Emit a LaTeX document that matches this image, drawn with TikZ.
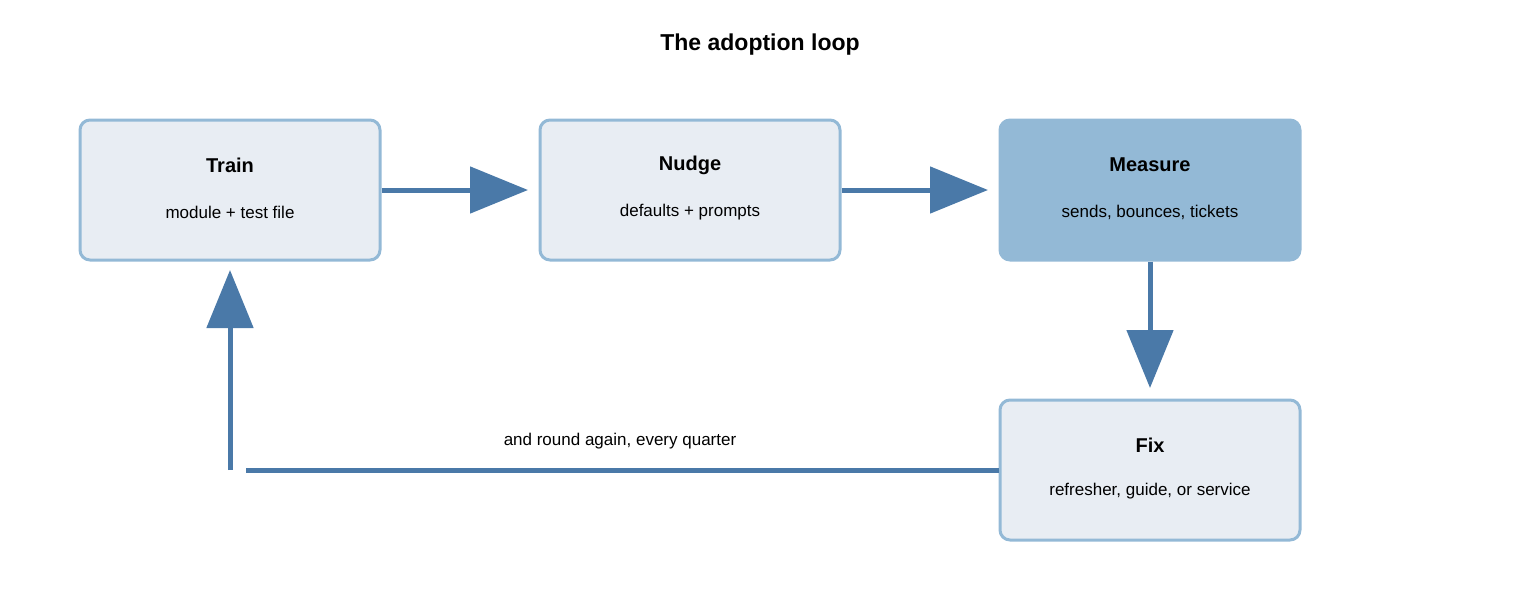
\documentclass[tikz,border=0pt]{standalone}
\usepackage{fontspec}
\setmainfont{Liberation Sans}
\usetikzlibrary{arrows.meta}
\definecolor{edge}{HTML}{4A79A8}
\definecolor{bord}{HTML}{93B9D6}
\definecolor{pale}{HTML}{E8EDF3}
\begin{document}
\begin{tikzpicture}[x=1pt,y=-1pt,
  box/.style={draw=bord,line width=3pt,fill=pale,rounded corners=10pt,minimum width=300pt,minimum height=140pt,align=center,inner sep=0pt},
  hot/.style={box,fill=bord},
  con/.style={draw=edge,line width=5pt,-{Triangle[length=58pt,width=46pt]}},
  ttl/.style={font=\bfseries\fontsize{20}{24}\selectfont},
  sub/.style={font=\fontsize{17}{20}\selectfont}]
\useasboundingbox (0,0) rectangle (1520,600);
\node[font=\bfseries\fontsize{23}{28}\selectfont] (title) at (760,45) {The adoption loop};
\node[box] (train) at (230,190) {};
\node[box] (nudge) at (690,190) {};
\node[hot] (measure) at (1150,190) {};
\node[box] (fix) at (1150,470) {};
\node[ttl] at (230,165) {Train}; \node[sub] at (230,212) {module + test file};
\node[ttl] at (690,165) {Nudge}; \node[sub] at (690,212) {defaults + prompts};
\node[ttl] at (1150,165) {Measure}; \node[sub] at (1150,212) {sends, bounces, tickets};
\node[ttl] at (1150,445) {Fix}; \node[sub] at (1150,491) {refresher, guide, or service};
\draw[con] (train.east) -- (528,190);
\draw[con] (nudge.east) -- (988,190);
\draw[con] (measure.south) -- (1150,388);
\coordinate (c1) at (246,470);
\coordinate (c2) at (230,470);
\draw[draw=edge,line width=5pt] (fix.west) -- (c1);
\draw[con] (c2) -- (230,270);
\node[sub] (lbl) at (620,441) {and round again, every quarter};
\end{tikzpicture}
\end{document}
